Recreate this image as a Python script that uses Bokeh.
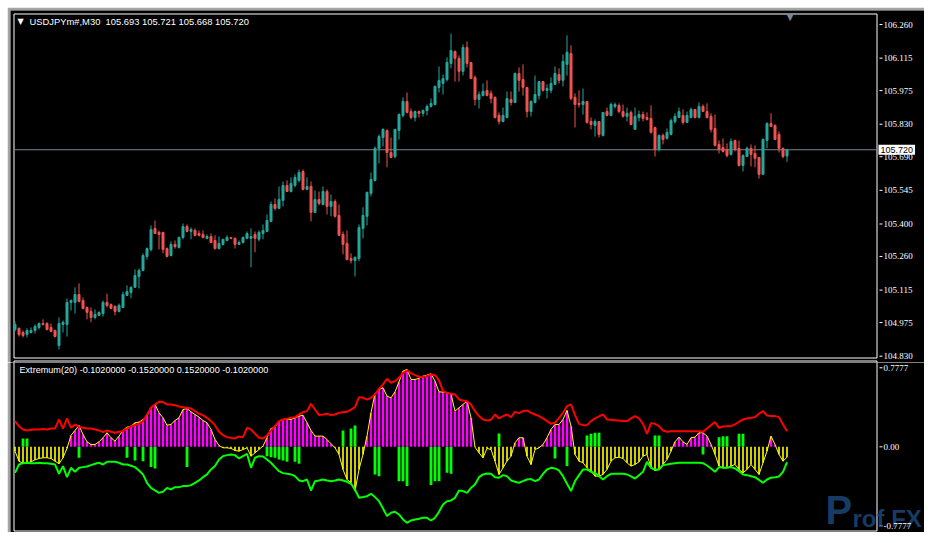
import numpy as np
from bokeh.plotting import figure
from bokeh.layouts import column
from bokeh.models import Label, LabelSet, ColumnDataSource
from bokeh.embed import file_html
from bokeh.resources import INLINE

symbol = "USDJPYm#,M30"
indicator_name = "Extremum(20)"
price_ticks = [106.260, 106.115, 105.975, 105.830, 105.690, 105.545, 105.400, 105.260, 105.115, 104.975, 104.830]
osc_ticks = [0.7777, 0.0, -0.7777]

open_ = [
 104.945,104.950,104.932,104.924,104.932,104.941,104.954,104.971,104.971,104.954,
 104.941,104.876,104.967,104.967,105.062,105.062,105.096,105.070,105.040,105.023,
 104.997,105.006,105.014,105.062,105.053,105.045,105.023,105.040,105.092,105.105,
 105.127,105.174,105.200,105.260,105.290,105.381,105.364,105.364,105.294,105.264,
 105.312,105.299,105.342,105.389,105.368,105.372,105.359,105.355,105.338,105.346,
 105.329,105.294,105.312,105.329,105.342,105.338,105.312,105.320,105.338,105.338,
 105.355,105.334,105.359,105.368,105.411,105.484,105.467,105.502,105.566,105.540,
 105.566,105.588,105.626,105.549,105.562,105.450,105.506,105.484,105.540,105.476,
 105.497,105.437,105.355,105.316,105.251,105.243,105.251,105.381,105.433,105.532,
 105.588,105.726,105.773,105.803,105.708,105.691,105.803,105.868,105.928,105.885,
 105.859,105.885,105.877,105.889,105.907,105.915,105.989,106.006,106.023,106.092,
 106.144,106.114,106.058,106.161,106.096,106.032,105.937,105.954,105.976,105.963,
 105.946,105.868,105.842,105.859,105.937,105.924,106.049,106.023,105.989,105.885,
 105.924,105.954,106.014,105.976,105.976,106.002,106.044,106.019,106.088,106.135,
 105.946,105.920,105.915,105.928,105.842,105.825,105.842,105.782,105.885,105.868,
 105.907,105.911,105.885,105.864,105.881,105.808,105.859,105.872,105.859,105.855,
 105.816,105.721,105.782,105.769,105.786,105.842,105.859,105.868,105.838,105.859,
 105.894,105.859,105.907,105.885,105.864,105.812,105.743,105.730,105.721,105.700,
 105.760,105.726,105.652,105.691,105.726,105.704,105.687,105.614,105.760,105.833,
 105.825,105.786,105.726,105.693]
high = [
 104.980,104.954,104.941,104.950,104.954,104.967,104.976,104.989,104.976,104.971,
 104.945,104.997,104.984,105.079,105.075,105.127,105.144,105.083,105.045,105.040,
 105.032,105.023,105.070,105.100,105.057,105.049,105.057,105.109,105.135,105.131,
 105.204,105.208,105.273,105.299,105.394,105.415,105.372,105.364,105.299,105.325,
 105.329,105.346,105.402,105.398,105.385,105.381,105.372,105.372,105.355,105.359,
 105.351,105.346,105.334,105.351,105.342,105.342,105.329,105.346,105.368,105.381,
 105.368,105.372,105.398,105.441,105.497,105.510,105.562,105.583,105.588,105.601,
 105.614,105.635,105.635,105.601,105.583,105.545,105.540,105.562,105.549,105.527,
 105.506,105.484,105.368,105.372,105.273,105.260,105.398,105.472,105.540,105.622,
 105.734,105.786,105.812,105.808,105.773,105.808,105.877,105.946,105.967,105.898,
 105.889,105.889,105.894,105.915,105.941,105.997,106.079,106.045,106.118,106.221,
 106.148,106.127,106.174,106.187,106.096,106.040,105.971,106.006,106.019,105.976,
 105.950,105.881,105.902,105.971,105.971,106.053,106.075,106.088,105.989,105.933,
 106.040,106.014,106.014,106.002,106.032,106.079,106.071,106.131,106.213,106.170,
 105.963,105.976,105.984,105.928,105.859,105.851,105.842,105.881,105.902,105.924,
 105.924,105.920,105.915,105.902,105.889,105.902,105.889,105.885,105.881,105.911,
 105.820,105.786,105.790,105.812,105.855,105.877,105.902,105.894,105.885,105.902,
 105.894,105.924,105.915,105.920,105.877,105.872,105.760,105.769,105.747,105.769,
 105.764,105.760,105.700,105.734,105.743,105.739,105.687,105.769,105.838,105.877,
 105.829,105.799,105.730,105.721]
low = [
 104.937,104.915,104.911,104.911,104.928,104.928,104.945,104.963,104.941,104.937,
 104.911,104.859,104.932,104.915,105.027,105.014,105.062,105.032,104.989,104.976,
 104.989,105.006,105.001,105.040,105.032,105.006,105.019,105.040,105.092,105.079,
 105.127,105.122,105.196,105.247,105.282,105.359,105.290,105.273,105.256,105.260,
 105.294,105.294,105.334,105.364,105.334,105.346,105.346,105.338,105.334,105.320,
 105.290,105.290,105.307,105.325,105.334,105.294,105.312,105.316,105.334,105.213,
 105.278,105.325,105.334,105.368,105.411,105.458,105.467,105.476,105.540,105.536,
 105.558,105.579,105.545,105.549,105.411,105.450,105.480,105.480,105.441,105.433,
 105.428,105.351,105.269,105.243,105.230,105.174,105.239,105.338,105.394,105.519,
 105.583,105.661,105.734,105.644,105.683,105.683,105.764,105.859,105.877,105.851,
 105.842,105.859,105.864,105.868,105.902,105.911,105.967,105.958,106.014,106.071,
 106.014,106.014,106.040,106.075,106.027,105.911,105.898,105.950,105.950,105.920,
 105.855,105.829,105.838,105.855,105.911,105.924,105.971,105.954,105.859,105.864,
 105.920,105.937,105.971,105.941,105.963,106.002,106.006,105.993,106.040,105.933,
 105.816,105.902,105.872,105.833,105.808,105.777,105.773,105.777,105.864,105.864,
 105.898,105.877,105.859,105.842,105.825,105.808,105.842,105.842,105.846,105.790,
 105.691,105.713,105.743,105.764,105.782,105.833,105.859,105.829,105.838,105.855,
 105.855,105.855,105.885,105.855,105.795,105.734,105.704,105.708,105.687,105.695,
 105.713,105.648,105.626,105.691,105.648,105.644,105.596,105.618,105.726,105.820,
 105.764,105.708,105.683,105.668]
close = [
 104.967,104.924,104.919,104.941,104.941,104.958,104.971,104.967,104.945,104.937,
 104.915,104.971,104.976,105.062,105.070,105.096,105.066,105.036,105.019,104.997,
 105.010,105.019,105.062,105.049,105.036,105.023,105.049,105.096,105.109,105.127,
 105.178,105.200,105.264,105.294,105.376,105.359,105.355,105.290,105.260,105.312,
 105.303,105.342,105.389,105.368,105.376,105.351,105.351,105.342,105.346,105.320,
 105.294,105.316,105.334,105.342,105.338,105.312,105.320,105.342,105.359,105.346,
 105.338,105.364,105.372,105.415,105.484,105.467,105.506,105.566,105.540,105.575,
 105.601,105.622,105.549,105.562,105.450,105.506,105.489,105.540,105.476,105.497,
 105.433,105.351,105.312,105.247,105.243,105.256,105.385,105.437,105.536,105.592,
 105.726,105.777,105.808,105.708,105.687,105.808,105.872,105.928,105.881,105.859,
 105.885,105.877,105.889,105.907,105.920,105.993,106.019,106.027,106.096,106.148,
 106.114,106.058,106.161,106.092,106.027,105.937,105.958,105.972,105.954,105.941,
 105.859,105.842,105.868,105.941,105.924,106.049,106.019,105.989,105.885,105.928,
 105.958,106.014,105.976,105.984,106.006,106.049,106.019,106.101,106.140,105.941,
 105.915,105.915,105.928,105.838,105.829,105.842,105.786,105.881,105.868,105.915,
 105.915,105.885,105.864,105.877,105.829,105.864,105.872,105.855,105.851,105.795,
 105.721,105.782,105.764,105.795,105.846,105.864,105.885,105.838,105.868,105.894,
 105.859,105.907,105.885,105.859,105.808,105.739,105.721,105.713,105.695,105.756,
 105.721,105.652,105.695,105.726,105.700,105.683,105.614,105.764,105.833,105.820,
 105.764,105.726,105.691,105.720]

hist = [
 -0.043,-0.141,-0.164,-0.157,-0.148,-0.128,-0.115,-0.108,-0.108,-0.115,
 -0.141,-0.167,-0.108,-0.016,0.112,0.161,0.210,0.121,0.049,0.023,
 0.023,0.049,0.089,0.138,0.089,0.056,0.105,0.161,0.194,0.203,
 0.236,0.243,0.269,0.302,0.390,0.417,0.335,0.285,0.213,0.220,
 0.259,0.285,0.367,0.377,0.344,0.318,0.292,0.259,0.236,0.171,
 0.072,0.013,-0.010,-0.010,-0.016,-0.036,-0.043,-0.026,-0.010,-0.092,
 -0.059,-0.026,0.007,0.089,0.180,0.194,0.253,0.269,0.269,0.269,
 0.285,0.302,0.310,0.236,0.161,0.105,0.105,0.105,0.072,0.030,
 -0.010,-0.075,-0.223,-0.322,-0.354,-0.436,-0.223,-0.075,0.105,0.335,
 0.522,0.564,0.581,0.499,0.482,0.541,0.640,0.745,0.761,0.663,
 0.663,0.673,0.696,0.705,0.719,0.646,0.541,0.538,0.531,0.522,
 0.351,0.384,0.417,0.449,0.285,-0.003,-0.059,-0.108,-0.016,-0.026,
 -0.141,-0.272,-0.207,-0.141,-0.092,0.039,0.089,0.089,-0.092,-0.174,
 -0.026,-0.010,0.023,0.089,0.171,0.220,0.220,0.269,0.358,0.203,
 -0.075,-0.141,-0.157,-0.207,-0.240,-0.289,-0.289,-0.272,-0.223,-0.141,
 -0.108,-0.102,-0.115,-0.157,-0.190,-0.174,-0.148,-0.092,-0.075,-0.207,
 -0.233,-0.223,-0.174,-0.125,-0.043,0.049,0.095,0.049,0.023,0.089,
 0.095,0.138,0.138,0.105,0.023,-0.075,-0.190,-0.207,-0.207,-0.190,
 -0.174,-0.223,-0.256,-0.223,-0.174,-0.223,-0.272,-0.157,-0.043,0.105,
 0.023,-0.075,-0.141,-0.102]
upper = [
 0.253,0.203,0.171,0.161,0.167,0.171,0.171,0.174,0.171,0.180,
 0.180,0.269,0.180,0.279,0.187,0.220,0.194,0.187,0.180,0.180,
 0.171,0.161,0.144,0.161,0.148,0.138,0.148,0.154,0.180,0.200,
 0.213,0.226,0.253,0.318,0.384,0.417,0.443,0.440,0.417,0.417,
 0.410,0.397,0.390,0.384,0.377,0.351,0.325,0.312,0.285,0.253,
 0.213,0.148,0.115,0.095,0.089,0.082,0.102,0.095,0.187,0.171,
 0.128,0.089,0.082,0.112,0.161,0.203,0.253,0.269,0.276,0.285,
 0.292,0.318,0.340,0.351,0.423,0.367,0.312,0.318,0.325,0.312,
 0.318,0.335,0.341,0.344,0.367,0.390,0.489,0.482,0.466,0.482,
 0.515,0.571,0.614,0.669,0.630,0.646,0.679,0.728,0.751,0.725,
 0.705,0.689,0.686,0.696,0.712,0.705,0.653,0.548,0.531,0.522,
 0.515,0.466,0.456,0.449,0.417,0.351,0.302,0.269,0.259,0.266,
 0.318,0.279,0.302,0.318,0.292,0.344,0.331,0.351,0.358,0.335,
 0.318,0.302,0.279,0.253,0.226,0.236,0.285,0.335,0.400,0.417,
 0.312,0.226,0.213,0.213,0.253,0.279,0.299,0.318,0.269,0.266,
 0.262,0.259,0.253,0.253,0.279,0.302,0.279,0.226,0.128,0.233,
 0.226,0.203,0.161,0.148,0.154,0.154,0.154,0.154,0.154,0.154,
 0.154,0.154,0.148,0.180,0.213,0.243,0.187,0.200,0.203,0.203,
 0.220,0.246,0.269,0.279,0.285,0.292,0.325,0.351,0.308,0.302,
 0.302,0.292,0.220,0.152]
lower = [
 -0.256,-0.174,-0.161,-0.157,-0.161,-0.161,-0.157,-0.161,-0.161,-0.167,
 -0.174,-0.266,-0.190,-0.299,-0.207,-0.246,-0.207,-0.200,-0.194,-0.180,
 -0.167,-0.157,-0.174,-0.148,-0.148,-0.148,-0.157,-0.174,-0.174,-0.187,
 -0.200,-0.233,-0.272,-0.354,-0.404,-0.430,-0.453,-0.443,-0.404,-0.420,
 -0.397,-0.397,-0.387,-0.387,-0.377,-0.354,-0.331,-0.299,-0.272,-0.223,
 -0.190,-0.125,-0.092,-0.082,-0.075,-0.082,-0.115,-0.092,-0.069,-0.207,
 -0.108,-0.092,-0.095,-0.125,-0.157,-0.200,-0.240,-0.259,-0.266,-0.272,
 -0.289,-0.331,-0.338,-0.322,-0.430,-0.338,-0.331,-0.322,-0.331,-0.338,
 -0.331,-0.322,-0.331,-0.344,-0.364,-0.420,-0.502,-0.495,-0.486,-0.463,
 -0.495,-0.535,-0.607,-0.682,-0.650,-0.640,-0.666,-0.715,-0.748,-0.725,
 -0.715,-0.709,-0.699,-0.699,-0.725,-0.699,-0.640,-0.568,-0.535,-0.528,
 -0.502,-0.430,-0.436,-0.453,-0.404,-0.371,-0.299,-0.272,-0.262,-0.266,
 -0.299,-0.305,-0.279,-0.289,-0.331,-0.344,-0.354,-0.338,-0.322,-0.318,
 -0.338,-0.322,-0.266,-0.223,-0.207,-0.213,-0.233,-0.289,-0.364,-0.436,
 -0.338,-0.279,-0.223,-0.223,-0.246,-0.259,-0.289,-0.322,-0.289,-0.266,
 -0.266,-0.266,-0.266,-0.272,-0.292,-0.312,-0.279,-0.246,-0.148,-0.207,
 -0.223,-0.223,-0.180,-0.174,-0.167,-0.161,-0.157,-0.157,-0.157,-0.157,
 -0.157,-0.157,-0.161,-0.184,-0.213,-0.246,-0.200,-0.207,-0.207,-0.200,
 -0.213,-0.240,-0.272,-0.279,-0.289,-0.299,-0.325,-0.354,-0.322,-0.305,
 -0.299,-0.292,-0.246,-0.152]
sig_idx = [2, 3, 16, 28, 30, 32, 34, 35, 43, 63, 64, 65, 66, 67, 68, 70, 71, 82, 84, 85,
           90, 91, 96, 97, 98, 104, 105, 106, 108, 109, 121, 135, 138, 143, 144, 145, 146,
           160, 161, 172, 176, 177, 178, 181, 182]
sig_val = [0.082, 0.082, -0.108, -0.108, -0.135, -0.141, -0.200, -0.213, -0.200, -0.092,
           -0.102, -0.108, -0.125, -0.135, -0.148, -0.148, -0.167, 0.161, 0.180, 0.210,
           -0.272, -0.289, -0.338, -0.338, -0.387, -0.377, -0.338, -0.338, -0.256, -0.266,
           0.131, -0.115, -0.190, 0.112, 0.128, 0.138, 0.138, 0.112, 0.112, -0.075,
           0.095, 0.105, 0.105, 0.128, 0.128]

o = np.array(open_); h = np.array(high); l = np.array(low); c = np.array(close)
hs = np.array(hist); up_ = np.array(upper); lo_ = np.array(lower)
sv = np.array(sig_val)
n = len(c)
x = np.arange(n)

BULL = "#26A69A"
BEAR = "#EF5350"
cols = np.where(c >= o, BULL, BEAR)
FONT = "Liberation Sans"
BORDER = "#a4a4a4"

# ---- layout geometry (page pixels) ----
PAGE0 = 8            # page margin
EDGE = 3             # grey window edge
BAR_PX = 4.0         # pixels per bar
BAR0_PX = 15.5       # page x of bar 0 centre
FRAME_L, FRAME_R = 14.5, 877.5      # inner white plot frame (page x)
W = 917
H1, H2 = 355, 170
SEP_Y = PAGE0 + H1   # page y where pane 2 starts
BOT_Y = SEP_Y + H2


def px2x(px):
    return (px - BAR0_PX) / BAR_PX


# price pane: page y -> price
PY0, PP0, PSCALE = 25.0, 106.260, 231.96


def py2p(py):
    return PP0 - (py - PY0) / PSCALE


# oscillator pane: page y -> value
OY0, OSCALE = 447.3, 101.6


def py2v(py):
    return (OY0 - py) / OSCALE


xr = (px2x(PAGE0 + EDGE), px2x(PAGE0 + W))


def base(p):
    p.background_fill_color = "black"
    p.border_fill_color = BORDER
    p.outline_line_color = None
    p.xgrid.visible = False
    p.ygrid.visible = False


# ================= price pane =================
p1 = figure(width=W, height=H1, x_range=xr,
            y_range=(py2p(SEP_Y), py2p(PAGE0 + EDGE)),
            output_backend="svg", toolbar_location=None, x_axis_location=None,
            y_axis_location=None, min_border_left=EDGE, min_border_right=0,
            min_border_top=EDGE, min_border_bottom=0)
base(p1)

p1.quad(left=px2x(FRAME_L), right=px2x(FRAME_R), bottom=py2p(358.5), top=py2p(14.5),
        fill_color=None, line_color="white", line_width=1)
# top edge of the indicator window
p1.segment(x0=px2x(FRAME_L), x1=px2x(FRAME_R), y0=py2p(361.5), y1=py2p(361.5),
           line_color="white", line_width=1)
p1.segment(x0=[px2x(FRAME_L), px2x(FRAME_R)], x1=[px2x(FRAME_L), px2x(FRAME_R)],
           y0=[py2p(361.5)] * 2, y1=[py2p(SEP_Y)] * 2, line_color="white", line_width=1)
p1.segment(x0=px2x(FRAME_L), x1=px2x(FRAME_R), y0=c[-1], y1=c[-1],
           line_color="#778899", line_width=1)
p1.segment(x0=x, y0=h, x1=x, y1=l, line_color=cols, line_width=1)
p1.vbar(x=x, bottom=np.minimum(o, c), top=np.maximum(o, c), width=0.5,
        fill_color=cols, line_color=cols, line_width=1)

# right price scale
p1.segment(x0=px2x(880), x1=px2x(883), y0=price_ticks, y1=price_ticks,
           line_color="white", line_width=1)
src1 = ColumnDataSource(dict(x=[px2x(884)] * len(price_ticks), y=price_ticks,
                             t=[f"{v:.3f}" for v in price_ticks]))
p1.add_layout(LabelSet(x="x", y="y", text="t", source=src1, text_color="white",
                       text_font=FONT, text_font_size="9px", text_baseline="middle"))
p1.add_layout(Label(x=px2x(879), y=c[-1], text=f"{c[-1]:.3f}", text_color="black",
                    text_font=FONT, text_font_size="9px", text_baseline="middle",
                    background_fill_color="white", padding=2))

# header texts
p1.add_layout(Label(x=px2x(18), y=py2p(22), text="\u25bc", text_color="white",
                    text_font="DejaVu Sans", text_font_size="8px", text_baseline="middle"))
p1.add_layout(Label(x=px2x(30), y=py2p(22),
                    text=f"{symbol} \u00a0{o[-1]:.3f} {h[-1]:.3f} {l[-1]:.3f} {c[-1]:.3f}",
                    text_color="white", text_font=FONT, text_font_size="9.4px",
                    text_baseline="middle"))
p1.add_layout(Label(x=n - 1 + 0.75, y=py2p(16.5), text="\u25bc", text_color="#778899",
                    text_font="DejaVu Sans", text_font_size="10px",
                    text_align="center", text_baseline="middle"))

# ================= oscillator pane =================
p2 = figure(width=W, height=H2, x_range=p1.x_range,
            y_range=(py2v(BOT_Y), py2v(SEP_Y)),
            output_backend="svg", toolbar_location=None, x_axis_location=None,
            y_axis_location=None, min_border_left=EDGE, min_border_right=0,
            min_border_top=0, min_border_bottom=0)
base(p2)

p2.quad(left=px2x(FRAME_L), right=px2x(FRAME_R), bottom=py2v(531.5), top=py2v(361.5),
        fill_color=None, line_color="white", line_width=1)

pos = hs > 0
p2.vbar(x=x[pos], bottom=0, top=hs[pos], width=0.6, fill_color="#FF00FF", line_color=None)
p2.vbar(x=x[~pos], bottom=hs[~pos], top=0, width=0.4, fill_color="#FFFF00", line_color=None)
p2.line(x, hs, line_color="#FFFF00", line_width=1)
p2.vbar(x=sig_idx, bottom=np.minimum(sv, 0), top=np.maximum(sv, 0), width=0.7,
        fill_color="#00FF00", line_color=None)
p2.line(x, up_, line_color="#FF0000", line_width=2)
p2.line(x, lo_, line_color="#00FF00", line_width=2)

# watermark
p2.add_layout(Label(x=px2x(826), y=py2v(532), text="P", text_color="#1f4f86",
                    text_alpha=0.75, text_font=FONT, text_font_style="bold",
                    text_font_size="40px", text_baseline="bottom"))
p2.add_layout(Label(x=px2x(853), y=py2v(532), text="rof FX", text_color="#1f4f86",
                    text_alpha=0.75, text_font=FONT, text_font_style="bold",
                    text_font_size="24px", text_baseline="bottom"))

# right oscillator scale
p2.segment(x0=px2x(880), x1=px2x(883), y0=osc_ticks, y1=osc_ticks,
           line_color="white", line_width=1)
src2 = ColumnDataSource(dict(x=[px2x(884)] * len(osc_ticks), y=osc_ticks,
                             t=["0.00" if v == 0 else f"{v:.4f}" for v in osc_ticks]))
p2.add_layout(LabelSet(x="x", y="y", text="t", source=src2, text_color="white",
                       text_font=FONT, text_font_size="9px", text_baseline="middle"))

p2.add_layout(Label(x=px2x(20), y=py2v(370.7),
                    text=f"{indicator_name} {hs[-1]:.7f} {lo_[-1]:.7f} {up_[-1]:.7f} {hs[-1]:.7f}",
                    text_color="white", text_font=FONT, text_font_size="9.1px",
                    text_baseline="middle"))

layout = column(p1, p2, margin=(PAGE0 - 1, 0, 0, PAGE0 - 1))
open("out.html", "w").write(file_html(layout, INLINE))
